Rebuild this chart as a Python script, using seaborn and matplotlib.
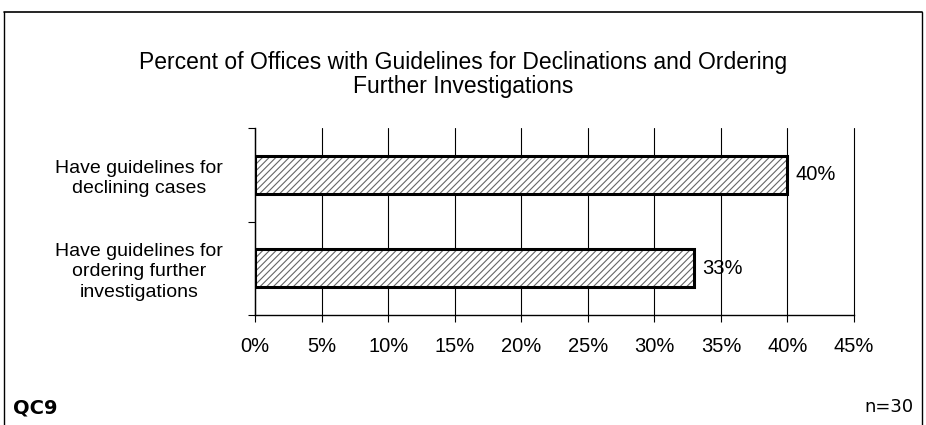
import matplotlib
matplotlib.use("Agg")
import matplotlib.pyplot as plt
import seaborn as sns
import pandas as pd
from matplotlib.lines import Line2D

categories = ["Have guidelines for\ndeclining cases",
              "Have guidelines for\nordering further\ninvestigations"]
values = [40, 33]
value_labels = ["40%", "33%"]
xticks = [0, 5, 10, 15, 20, 25, 30, 35, 40, 45]
xtick_labels = [f"{t}%" for t in xticks]
title = "Percent of Offices with Guidelines for Declinations and Ordering\nFurther Investigations"

sns.set_style("white")
plt.rcParams['font.family'] = ['Liberation Sans', 'DejaVu Sans']
plt.rcParams['text.color'] = 'black'
plt.rcParams['xtick.color'] = 'black'
plt.rcParams['ytick.color'] = 'black'
plt.rcParams['hatch.linewidth'] = 0.8

df = pd.DataFrame({"cat": categories, "val": values})

fig = plt.figure(figsize=(9.26, 4.25), dpi=100)
ax = fig.add_axes([0.2754, 0.2588, 0.6469, 0.44])

# hatched fill
sns.barplot(data=df, x="val", y="cat", ax=ax, color="white", edgecolor="#666666",
            linewidth=0, width=0.41, saturation=1, zorder=3)
for p in ax.patches:
    p.set_hatch("/////")
    p.set_edgecolor("#666666")
    p.set_linewidth(0)
# outline
sns.barplot(data=df, x="val", y="cat", ax=ax, fill=False, edgecolor="black",
            linewidth=2.2, width=0.41, saturation=1, zorder=4)

ax.set_xlim(0, 45)
ax.set_ylim(1.5, -0.5)
ax.set_xticks(xticks)
ax.set_xticklabels(xtick_labels, fontsize=14.5)
ax.set_xlabel("")
ax.set_ylabel("")
ax.xaxis.grid(True, color="black", linewidth=0.8)
for gl in ax.xaxis.get_gridlines():
    gl.set_clip_on(False)
ax.set_axisbelow(True)
for s in ["top", "right"]:
    ax.spines[s].set_visible(False)
for s in ["left", "bottom"]:
    ax.spines[s].set_color("black")
    ax.spines[s].set_linewidth(1)

ax.set_yticks([0, 1])
ax.set_yticklabels(categories, fontsize=14, multialignment="center", linespacing=1.25)
ax.tick_params(axis="y", length=0, pad=23)
ax.tick_params(axis="x", length=5, width=0.8, pad=11, direction="out", bottom=True)
# category boundary ticks on y axis
ax.set_yticks([-0.5, 0.5, 1.5], minor=True)
ax.tick_params(axis="y", which="minor", length=5, width=0.8, left=True)

for i, (v, lab) in enumerate(zip(values, value_labels)):
    ax.text(v + 0.6, i, lab, va="center", ha="left", fontsize=14.5)

fig.text(0.5, 0.825, title, ha="center", va="center", fontsize=16.5, linespacing=1.05)
fig.text(0.014, 0.04, "QC9", ha="left", va="center", fontsize=14, fontweight="semibold",
         family=["DejaVu Sans"])
fig.text(0.986, 0.042, "n=30", ha="right", va="center", fontsize=13, fontweight="normal",
         family=["DejaVu Sans"])

# page frame
fig.add_artist(Line2D([0.004, 0.004], [0.0, 0.972], transform=fig.transFigure, color="black", lw=1))
fig.add_artist(Line2D([0.004, 0.996], [0.972, 0.972], transform=fig.transFigure, color="black", lw=1.2))
fig.add_artist(Line2D([0.996, 0.996], [0.0, 0.972], transform=fig.transFigure, color="black", lw=1))

fig.savefig("out.png", dpi=100)
